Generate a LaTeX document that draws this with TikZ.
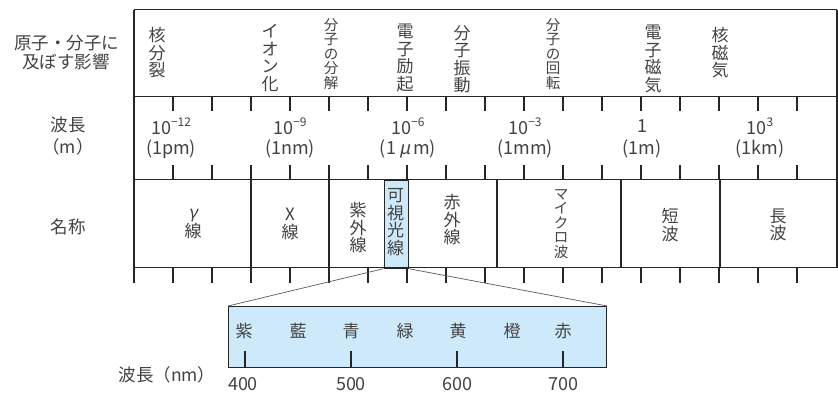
\documentclass[tikz,border=0pt]{standalone}
\usepackage{fontspec}
\setmainfont{Noto Sans CJK JP}
\newfontfamily\slantfont[FakeSlant=0.2]{Noto Sans CJK JP}
\definecolor{txt}{HTML}{424242}
\definecolor{vis}{RGB}{206,234,250}
\definecolor{ln}{HTML}{262626}
\newcommand{\myex}[1]{\raisebox{0.42em}{\fontsize{12}{12}\selectfont #1}}
\begin{document}
\begin{tikzpicture}[x=1pt,y=-1pt,
  lbl/.style={font=\fontsize{17}{17.5}\selectfont, text=txt, align=center, inner sep=0pt},
  sm/.style={font=\fontsize{14.5}{14.6}\selectfont, text=txt, align=center, inner sep=0pt},
  side/.style={font=\fontsize{17.5}{19}\selectfont, text=txt, align=center, inner sep=0pt},
  num/.style={font=\fontsize{18}{18}\selectfont, text=txt, inner sep=0pt},
  gridline/.style={line width=1.2pt, draw=ln},
  tickline/.style={line width=1.2pt, draw=ln},
  conn/.style={line width=0.7pt, draw=black!65},
  boxed/.style={draw=ln, line width=1.2pt, fill=vis, inner sep=0pt}]
\useasboundingbox (0,0) rectangle (838,408);
% visible light box in name row
\node[boxed, minimum width=24pt, minimum height=88pt, anchor=north west] (vis) at (383.5,179.5) {};
\node[lbl] (vist) at (395.5,222) {可\\視\\光\\線};
% grid
\draw[gridline] (134,9.5) -- (837,9.5);
\draw[gridline] (134,96.5) -- (837,96.5);
\draw[gridline] (134,179.5) -- (837,179.5);
\draw[gridline] (134,267.5) -- (837,267.5);
\draw[gridline] (134,9.5) -- (134,283);
\draw[gridline] (837,9.5) -- (837,267.5);
\foreach \k in {1,...,17}{
  \draw[tickline] ({134+39*\k},96.5) -- ({134+39*\k},110.5);
  \draw[tickline] ({134+39*\k},165) -- ({134+39*\k},179.5);
  \draw[tickline] ({134+39*\k},267.5) -- ({134+39*\k},283);
}
\foreach \x in {251,329,497,621,720}{
  \draw[gridline] (\x,179.5) -- (\x,267.5);
}
% spectrum box
\node[boxed, minimum width=378pt, minimum height=61pt, anchor=north west] (spec) at (228,306) {};
\draw[conn] (vis.south west) -- (spec.north west);
\draw[conn] (vis.south east) -- (spec.north east);
\foreach \x in {245,351,457,563}{
  \draw[tickline] (\x,351) -- (\x,367);
}
\node[lbl] (c1) at (244,331) {紫};
\node[lbl] (c2) at (298,331) {藍};
\node[lbl] (c3) at (351,331) {青};
\node[lbl] (c4) at (405,331) {緑};
\node[lbl] (c5) at (458,331) {黄};
\node[lbl] (c6) at (512,331) {橙};
\node[lbl] (c7) at (563,331) {赤};
\node[num] (w4) at (243,384) {400};
\node[num] (w5) at (351,384) {500};
\node[num] (w6) at (457,384) {600};
\node[num] (w7) at (563,384) {700};
\node[side] (wl) at (167,375) {波長（nm）};
% left labels
\node[side] (s1) at (66.5,42.7) {原子・分子に};
\node[side] (s2) at (66,61.7) {及ぼす影響};
\node[side] (s3) at (68,125) {波長};
\node[side] (s4) at (68,147) {（m）};
\node[side] (s5) at (68,227) {名称};
% row 1
\node[lbl] (e1) at (157,53) {核\\分\\裂};
\node[lbl] (e2) at (270,58) {イ\\オ\\ン\\化};
\node[sm] (e3) at (331,54) {分\\子\\の\\分\\解};
\node[lbl] (e4) at (405,58) {電\\子\\励\\起};
\node[lbl] (e5) at (462,59) {分\\子\\振\\動};
\node[sm] (e6) at (553,54) {分\\子\\の\\回\\転};
\node[lbl] (e7) at (653,59) {電\\子\\磁\\気};
\node[lbl] (e8) at (720,53) {核\\磁\\気};
% row 2
\node[num] (m1) at (171,126) {10\myex{−12}};
\node[num] (m2) at (290,126) {10\myex{−9}};
\node[num] (m3) at (408,126) {10\myex{−6}};
\node[num] (m4) at (525,126) {10\myex{−3}};
\node[num] (m5) at (642,126) {1};
\node[num] (m6) at (760,126) {10\myex{3}};
\node[num] (p1) at (171,149) {(1pm)};
\node[num] (p2) at (290,149) {(1nm)};
\node[num] (p3) at (408,149) {(1\,{\slantfont μ}\,m)};
\node[num] (p4) at (525,149) {(1mm)};
\node[num] (p5) at (642,149) {(1m)};
\node[num] (p6) at (760,149) {(1km)};
% row 3
\node[lbl] (r1) at (193,224) {{\slantfont γ}\\線};
\node[lbl] (r2) at (290,224) {X\\線};
\node[lbl] (r3) at (358,228) {紫\\外\\線};
\node[lbl] (r4) at (452,220) {赤\\外\\線};
\node[sm] (r5) at (561,224) {マ\\イ\\ク\\ロ\\波};
\node[lbl] (r6) at (670,225) {短\\波};
\node[lbl] (r7) at (778,225) {長\\波};
\end{tikzpicture}
\end{document}
